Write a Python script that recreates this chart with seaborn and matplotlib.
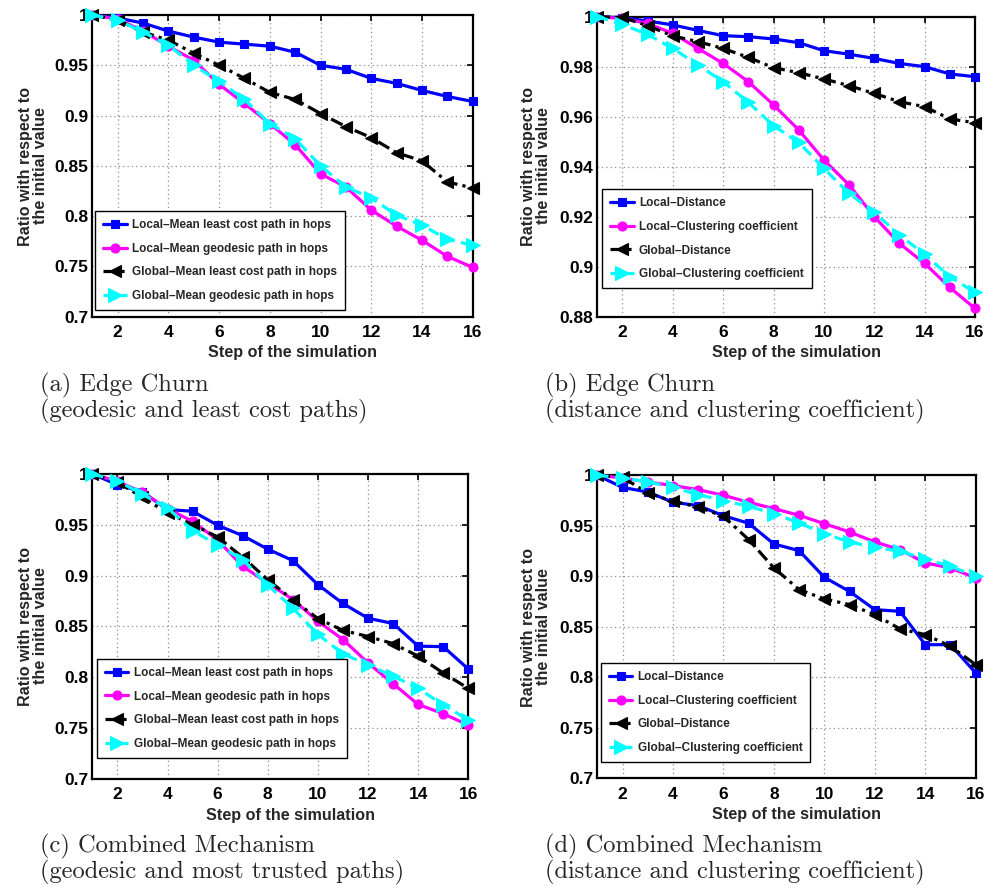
import matplotlib
matplotlib.use("Agg")
import matplotlib.pyplot as plt
import seaborn as sns

steps = list(range(1, 17))

# (a) Edge churn: geodesic and least cost paths
a_local_least_cost = [1.000, 0.997, 0.992, 0.984, 0.978, 0.973, 0.971, 0.969,
                      0.963, 0.950, 0.946, 0.937, 0.932, 0.925, 0.919, 0.914]
a_local_geodesic = [1.000, 0.996, 0.984, 0.969, 0.955, 0.931, 0.912, 0.892,
                    0.871, 0.842, 0.829, 0.806, 0.790, 0.776, 0.760, 0.749]
a_global_least_cost = [1.000, 0.995, 0.983, 0.975, 0.962, 0.950, 0.937, 0.923,
                       0.916, 0.902, 0.889, 0.878, 0.863, 0.855, 0.834, 0.828]
a_global_geodesic = [1.000, 0.995, 0.983, 0.970, 0.950, 0.934, 0.916, 0.892,
                     0.877, 0.850, 0.829, 0.818, 0.801, 0.791, 0.777, 0.771]

# (b) Edge churn: distance and clustering coefficient
b_local_distance = [1.0, 0.9996, 0.9983, 0.9967, 0.9945, 0.9924, 0.9920, 0.9911,
                    0.9896, 0.9864, 0.9850, 0.9833, 0.9813, 0.9800, 0.9771, 0.9760]
b_local_clustering = [1.0, 0.9993, 0.9973, 0.9933, 0.9873, 0.9813, 0.9740, 0.9647,
                      0.9547, 0.9427, 0.9327, 0.9200, 0.9093, 0.9013, 0.8917, 0.8833]
b_global_distance = [1.0, 0.9997, 0.9964, 0.9923, 0.9900, 0.9873, 0.9837, 0.9796,
                     0.9776, 0.9751, 0.9724, 0.9693, 0.9660, 0.9640, 0.9591, 0.9576]
b_global_clustering = [1.0, 0.9969, 0.9929, 0.9873, 0.9807, 0.9740, 0.9657, 0.9564,
                       0.9497, 0.9393, 0.9293, 0.9217, 0.9127, 0.9049, 0.8960, 0.8897]

# (c) Combined mechanism: geodesic and most trusted paths
c_local_least_cost = [1.0, 0.9895, 0.9823, 0.965, 0.9633, 0.9495, 0.9393, 0.926,
                      0.9148, 0.891, 0.8725, 0.858, 0.8528, 0.8305, 0.830, 0.808]
c_local_geodesic = [1.0, 0.9928, 0.982, 0.9659, 0.9534, 0.935, 0.909, 0.8928,
                    0.8764, 0.855, 0.837, 0.814, 0.7935, 0.7731, 0.764, 0.7528]
c_global_least_cost = [1.0, 0.992, 0.977, 0.9616, 0.9502, 0.938, 0.918, 0.896,
                       0.876, 0.8577, 0.846, 0.840, 0.833, 0.8207, 0.804, 0.789]
c_global_geodesic = [1.0, 0.9934, 0.980, 0.9666, 0.9443, 0.930, 0.9157, 0.8905,
                     0.868, 0.842, 0.823, 0.812, 0.801, 0.789, 0.7725, 0.758]

# (d) Combined mechanism: distance and clustering coefficient
d_local_distance = [1.0, 0.988, 0.9835, 0.9733, 0.970, 0.960, 0.9525, 0.932,
                    0.9254, 0.899, 0.885, 0.867, 0.8653, 0.8323, 0.8323, 0.8043]
d_local_clustering = [1.0, 0.9974, 0.9934, 0.9898, 0.9858, 0.9802, 0.9733, 0.967,
                      0.9604, 0.9521, 0.9439, 0.934, 0.9264, 0.9132, 0.9083, 0.8983]
d_global_distance = [1.0, 0.998, 0.9825, 0.9743, 0.9686, 0.9594, 0.9363, 0.9083,
                     0.8868, 0.8776, 0.872, 0.862, 0.8479, 0.8423, 0.8307, 0.8125]
d_global_clustering = [1.0, 0.9974, 0.9934, 0.988, 0.9809, 0.975, 0.9693, 0.962,
                       0.9528, 0.9422, 0.934, 0.9287, 0.9247, 0.9172, 0.9099, 0.900]

path_labels = ["Local\u2013Mean least cost path in hops",
               "Local\u2013Mean geodesic path in hops",
               "Global\u2013Mean least cost path in hops",
               "Global\u2013Mean geodesic path in hops"]
metric_labels = ["Local\u2013Distance",
                 "Local\u2013Clustering coefficient",
                 "Global\u2013Distance",
                 "Global\u2013Clustering coefficient"]

xticks = [2, 4, 6, 8, 10, 12, 14, 16]
yticks_paths = [0.7, 0.75, 0.8, 0.85, 0.9, 0.95, 1.0]
ytick_labels_paths = ["0.7", "0.75", "0.8", "0.85", "0.9", "0.95", "1"]
yticks_b = [0.88, 0.9, 0.92, 0.94, 0.96, 0.98, 1.0]
ytick_labels_b = ["0.88", "0.9", "0.92", "0.94", "0.96", "0.98", "1"]

captions = [("(a) Edge Churn", "(geodesic and least cost paths)"),
            ("(b) Edge Churn", "(distance and clustering coefficient)"),
            ("(c) Combined Mechanism", "(geodesic and most trusted paths)"),
            ("(d) Combined Mechanism", "(distance and clustering coefficient)")]

sns.set_style("white")
plt.rcParams["font.family"] = ["Liberation Sans", "DejaVu Sans"]
plt.rcParams["font.weight"] = "bold"

STYLES = [
    dict(color=(0, 0, 1), marker="s", markersize=6.0, linestyle="-"),
    dict(color=(1, 0, 1), marker="o", markersize=6.5, linestyle="-"),
    dict(color="black", marker="<", markersize=9.0, linestyle=(0, (4.0, 1.6, 1.0, 1.6))),
    dict(color=(0, 1, 1), marker=">", markersize=9.5, linestyle=(0, (3.5, 2.0))),
]

W, H = 997, 889
fig = plt.figure(figsize=(W / 100, H / 100), dpi=100)


def px_axes(left, top, right, bottom):
    return fig.add_axes([left / W, 1 - bottom / H, (right - left) / W, (bottom - top) / H])


def draw_panel(ax, series, labels, yticks, ylabels, anchor):
    for vals, lab, st in zip(series, labels, STYLES):
        sns.lineplot(x=steps, y=vals, ax=ax, label=lab, linewidth=2.3,
                     markeredgecolor=st["color"], markerfacecolor=st["color"],
                     markeredgewidth=0.8, clip_on=False, zorder=3, **st)
    ax.set_xlim(1, 16)
    ax.set_ylim(yticks[0], yticks[-1])
    ax.set_xticks(xticks)
    ax.set_xticklabels([str(t) for t in xticks])
    ax.set_yticks(yticks)
    ax.set_yticklabels(ylabels)
    ax.grid(True, linestyle=(0, (1, 2.5)), color="#8c8c8c", linewidth=0.9)
    ax.tick_params(direction="in", length=4, width=1.2, top=True, right=True,
                   labelsize=12.5, colors="black")
    ax.tick_params(axis="x", pad=6)
    ax.tick_params(axis="y", pad=3)
    for lbl in ax.get_xticklabels() + ax.get_yticklabels():
        lbl.set_fontweight("bold")
    for sp in ax.spines.values():
        sp.set_visible(True)
        sp.set_color("black")
        sp.set_linewidth(1.6)
    ax.set_xlabel("Step of the simulation", fontsize=11.6, fontweight="bold", labelpad=2)
    ax.xaxis.set_label_coords(0.527, -0.095)
    ax.set_ylabel("")
    leg = ax.legend(loc="lower left", bbox_to_anchor=anchor, borderaxespad=0,
                    frameon=True, fancybox=False, framealpha=1,
                    edgecolor="black", handlelength=2.0, handletextpad=0.45,
                    labelspacing=0.98, borderpad=0.68, prop={"weight": "bold", "size": 8.5})
    leg.get_frame().set_linewidth(1.0)


ax_a = px_axes(92.3, 15.0, 472.7, 316.7)
ax_b = px_axes(597.3, 16.7, 975.0, 316.7)
ax_c = px_axes(92.3, 474.0, 468.3, 778.7)
ax_d = px_axes(597.3, 475.3, 975.7, 778.3)

draw_panel(ax_a, [a_local_least_cost, a_local_geodesic, a_global_least_cost, a_global_geodesic],
           path_labels, yticks_paths, ytick_labels_paths, (0.007, 0.022))
draw_panel(ax_b, [b_local_distance, b_local_clustering, b_global_distance, b_global_clustering],
           metric_labels, yticks_b, ytick_labels_b, (0.0125, 0.095))
draw_panel(ax_c, [c_local_least_cost, c_local_geodesic, c_global_least_cost, c_global_geodesic],
           path_labels, yticks_paths, ytick_labels_paths, (0.0117, 0.069))
draw_panel(ax_d, [d_local_distance, d_local_clustering, d_global_distance, d_global_clustering],
           metric_labels, yticks_paths, ytick_labels_paths, (0.009, 0.054))

# shared y-axis titles
for xc, yc in [(33, 166), (536, 166), (33, 626), (536, 627)]:
    fig.text(xc / W, 1 - yc / H, "Ratio with respect to\nthe initial value",
             rotation=90, ha="center", va="center", fontsize=11.6, fontweight="bold",
             linespacing=0.95, multialignment="center")

# sub-figure captions
for (line1, line2), (x0, y1) in zip(captions, [(40, 385), (545, 385), (40, 846), (545, 846)]):
    fig.text(x0 / W, 1 - y1 / H, line1, ha="left", va="center", fontsize=17.6,
             family="cmr10", fontweight="normal")
    fig.text(x0 / W, 1 - (y1 + 26) / H, line2, ha="left", va="center", fontsize=17.6,
             family="cmr10", fontweight="normal")

fig.savefig("out.png", dpi=100, facecolor="white")
